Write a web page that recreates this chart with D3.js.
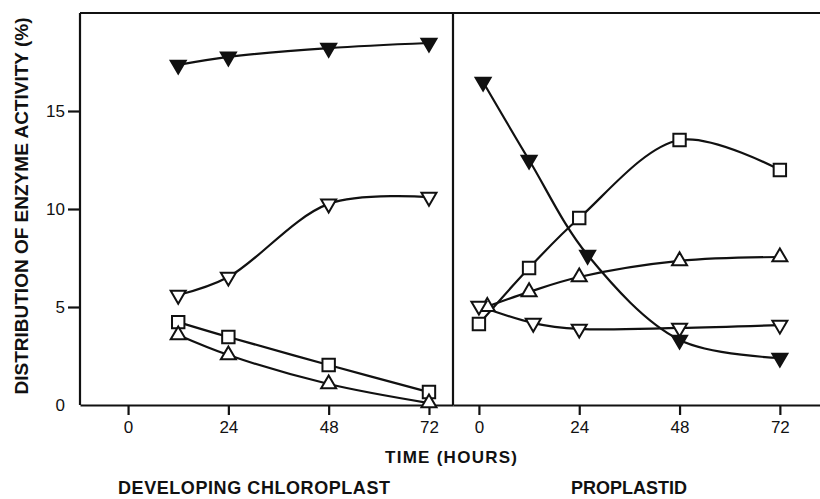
<!DOCTYPE html>
<html>
<head>
<meta charset="utf-8">
<script src="https://cdn.jsdelivr.net/npm/d3@7"></script>
<style>
  html, body { margin: 0; padding: 0; background: #fff; }
  svg { display: block; }
  text { font-family: "Liberation Sans", Arial, Helvetica, sans-serif; fill: #111; }
</style>
</head>
<body>
<svg id="chart" width="820" height="499"></svg>
<script>
// Time axis ticks (hours) and activity ticks (%)
const hourTicks = [0, 24, 48, 72];
const activityTicks = [0, 5, 10, 15];

// Developing chloroplast: [hours, % of enzyme activity]
const chloroFilledDown = [[12, 17.35], [24, 17.76], [48, 18.21], [72, 18.47]];
const chloroOpenDown   = [[12, 5.61], [24, 6.53], [48, 10.26], [72, 10.61]];
const chloroSquare     = [[12, 4.23], [24, 3.47], [48, 2.04], [72, 0.66]];
const chloroOpenUp     = [[12, 3.57], [24, 2.55], [48, 1.07], [72, 0.10]];

// Proplastid: [hours, % of enzyme activity]
const proFilledDown = [[1, 16.48], [12, 12.5], [26, 7.65], [48, 3.32], [72, 2.4]];
const proSquare     = [[0, 4.13], [12, 6.99], [24, 9.54], [48, 13.52], [72, 11.99]];
const proOpenUp     = [[2, 5.02], [12, 5.77], [24, 6.53], [48, 7.35], [72, 7.55]];
const proOpenDown   = [[0, 5.05], [13, 4.18], [24, 3.88], [48, 3.93], [72, 4.08]];

const panelTitles = ["DEVELOPING CHLOROPLAST", "PROPLASTID"];

const svg = d3.select("#chart");

const y = d3.scaleLinear().domain([0, 20]).range([405, 13]);
const xLeft = d3.scaleLinear().domain([-11.5, 77.75]).range([80, 453]);
const xRight = d3.scaleLinear().domain([-6.2, 81.6]).range([453, 820]);

const STROKE = 2.2;

// Frame: top rule and the divider between the two panels
const frame = svg.append("g").attr("stroke", "#111").attr("stroke-width", STROKE).attr("fill", "none");
frame.append("line").attr("x1", xLeft.range()[0]).attr("x2", xRight.range()[1])
  .attr("y1", y(20)).attr("y2", y(20));
frame.append("line").attr("x1", xLeft.range()[1]).attr("x2", xLeft.range()[1])
  .attr("y1", y(20)).attr("y2", y(0));

// Vertical axis
const yAxis = svg.append("g")
  .attr("transform", `translate(${xLeft.range()[0]},0)`)
  .call(d3.axisLeft(y).tickValues(activityTicks).tickSize(12).tickSizeOuter(0).tickPadding(3));
yAxis.select(".domain").attr("stroke", "#111").attr("stroke-width", STROKE).attr("d", `M0,${y(0)}V${y(20)}`);
yAxis.selectAll(".tick line").attr("stroke", "#111").attr("stroke-width", STROKE)
  .filter(d => d === 0).remove();
yAxis.selectAll(".tick text").attr("font-size", 17).attr("fill", "#111")
  .style("font-family", "'Liberation Sans', Arial, sans-serif");

// Time axes for both panels
[xLeft, xRight].forEach(xs => {
  const g = svg.append("g")
    .attr("transform", `translate(0,${y(0)})`)
    .call(d3.axisBottom(xs).tickValues(hourTicks).tickSize(10).tickSizeOuter(0).tickPadding(6));
  g.select(".domain").attr("stroke", "#111").attr("stroke-width", STROKE);
  g.selectAll(".tick line").attr("stroke", "#111").attr("stroke-width", STROKE);
  g.selectAll(".tick text").attr("font-size", 17).attr("fill", "#111")
    .style("font-family", "'Liberation Sans', Arial, sans-serif");
});

// Marker shapes
const triDown = "M-7.5,-4.3L7.5,-4.3L0,8.6Z";
const triUp = "M-7.5,4.3L7.5,4.3L0,-8.6Z";
const square = "M-6.2,-6.2H6.2V6.2H-6.2Z";

const curve = d3.curveCatmullRom.alpha(0.5);

function drawSeries(xs, data, shape, filled) {
  const line = d3.line().x(d => xs(d[0])).y(d => y(d[1])).curve(curve);
  svg.append("path")
    .datum(data)
    .attr("d", line)
    .attr("fill", "none")
    .attr("stroke", "#111")
    .attr("stroke-width", STROKE);
  return () => {
    svg.append("g").selectAll("path")
      .data(data)
      .join("path")
      .attr("d", shape)
      .attr("transform", d => `translate(${xs(d[0])},${y(d[1])})`)
      .attr("fill", filled ? "#111" : "#fff")
      .attr("stroke", "#111")
      .attr("stroke-width", 2)
      .attr("stroke-linejoin", "miter");
  };
}

const markerPasses = [
  drawSeries(xLeft, chloroFilledDown, triDown, true),
  drawSeries(xLeft, chloroOpenDown, triDown, false),
  drawSeries(xLeft, chloroSquare, square, false),
  drawSeries(xLeft, chloroOpenUp, triUp, false),
  drawSeries(xRight, proFilledDown, triDown, true),
  drawSeries(xRight, proSquare, square, false),
  drawSeries(xRight, proOpenUp, triUp, false),
  drawSeries(xRight, proOpenDown, triDown, false)
];
markerPasses.forEach(f => f());

// Axis titles
svg.append("text")
  .attr("transform", "translate(28,206) rotate(-90)")
  .attr("text-anchor", "middle")
  .attr("font-size", 19)
  .attr("font-weight", "bold")
  .attr("textLength", 377)
  .attr("lengthAdjust", "spacingAndGlyphs")
  .text("DISTRIBUTION OF ENZYME ACTIVITY (%)");

svg.append("text")
  .attr("x", 451).attr("y", 463)
  .attr("text-anchor", "middle")
  .attr("font-size", 17)
  .attr("font-weight", "bold")
  .attr("textLength", 132)
  .attr("lengthAdjust", "spacing")
  .text("TIME (HOURS)");

// Panel captions
svg.append("text")
  .attr("x", 254).attr("y", 494)
  .attr("text-anchor", "middle")
  .attr("font-size", 18)
  .attr("font-weight", "bold")
  .attr("textLength", 272)
  .attr("lengthAdjust", "spacing")
  .text(panelTitles[0]);

svg.append("text")
  .attr("x", 629).attr("y", 494)
  .attr("text-anchor", "middle")
  .attr("font-size", 18)
  .attr("font-weight", "bold")
  .text(panelTitles[1]);
</script>
</body>
</html>
